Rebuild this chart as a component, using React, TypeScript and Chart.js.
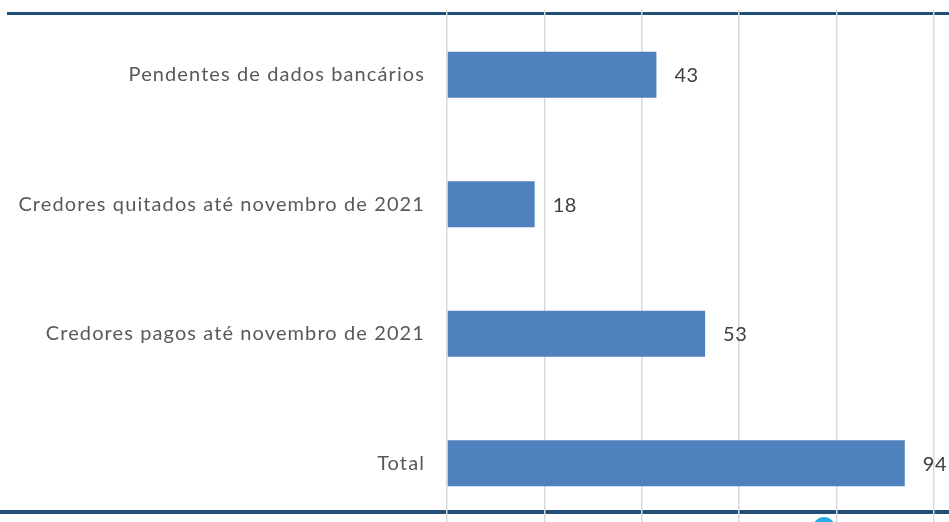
import React, { useEffect, useRef } from "react";
import { Chart, registerables } from "chart.js";

Chart.register(...registerables);

const categories = [
  "Pendentes de dados bancários",
  "Credores quitados até novembro de 2021",
  "Credores pagos até novembro de 2021",
  "Total",
];
const values = [43, 18, 53, 94];
const xMin = 0;
const xMax = 100;
const xStep = 20;

const FONT = "Lato, 'Open Sans', sans-serif";

const spacing = {
  id: "spacing",
  beforeDraw(chart: any) {
    chart.ctx.letterSpacing = "1.1px";
  },
};

const valueLabels = {
  id: "valueLabels",
  afterDatasetsDraw(chart: any) {
    const ctx = chart.ctx;
    const meta = chart.getDatasetMeta(0);
    ctx.save();
    ctx.letterSpacing = "0.5px";
    ctx.font = `20px ${FONT}`;
    ctx.fillStyle = "#404040";
    ctx.textAlign = "left";
    ctx.textBaseline = "middle";
    meta.data.forEach((bar: any, i: number) => {
      ctx.fillText(String(values[i]), bar.x + 18, bar.y + 1);
    });
    ctx.restore();
  },
};

export default function App() {
  const ref = useRef<HTMLCanvasElement | null>(null);
  useEffect(() => {
    if (!ref.current) return;
    const chart = new Chart(ref.current, {
      type: "bar",
      data: {
        labels: categories,
        datasets: [
          {
            data: values,
            backgroundColor: "#4F81BD",
            borderWidth: 0,
            barPercentage: 0.355,
            categoryPercentage: 1,
          },
        ],
      },
      options: {
        indexAxis: "y",
        responsive: false,
        animation: false,
        layout: { padding: { top: 10, bottom: 2, right: 15, left: 0 } },
        plugins: { legend: { display: false }, tooltip: { enabled: false } },
        scales: {
          x: {
            min: xMin,
            max: xMax,
            ticks: { display: false, stepSize: xStep },
            grid: { color: "#D9D9D9", lineWidth: 1.5, drawTicks: false },
            border: { display: false },
            afterFit: (s: any) => {
              s.height = 0;
              s.paddingLeft = 0;
              s.paddingRight = 0;
            },
          },
          y: {
            ticks: {
              color: "#595959",
              font: { family: FONT, size: 20 },
              padding: 0,
            },
            grid: {
              display: true,
              drawOnChartArea: false,
              drawTicks: true,
              tickLength: 22,
              color: "rgba(0,0,0,0)",
            },
            border: { display: false },
            afterFit: (s: any) => {
              s.width = 447;
              s.paddingTop = 0;
              s.paddingBottom = 0;
            },
          },
        },
      },
      plugins: [spacing, valueLabels],
    });
    return () => chart.destroy();
  }, []);

  return (
    <div
      style={{
        position: "fixed",
        left: 0,
        top: 0,
        width: 949,
        height: 522,
        overflow: "hidden",
        background: "#ffffff",
      }}
    >
      <div
        style={{
          position: "absolute",
          left: 7,
          top: 12,
          width: 942,
          height: 3,
          background: "#1F4E79",
        }}
      />
      <div
        style={{
          position: "absolute",
          left: 0,
          top: 510,
          width: 949,
          height: 4,
          background: "#1F4E79",
        }}
      />
      <div
        style={{
          position: "absolute",
          left: 813,
          top: 517,
          width: 22,
          height: 22,
          borderRadius: "50%",
          background: "#29ABE2",
        }}
      />
      <canvas
        ref={ref}
        width={949}
        height={530}
        style={{ position: "absolute", left: 0, top: 0, display: "block" }}
      />
    </div>
  );
}
